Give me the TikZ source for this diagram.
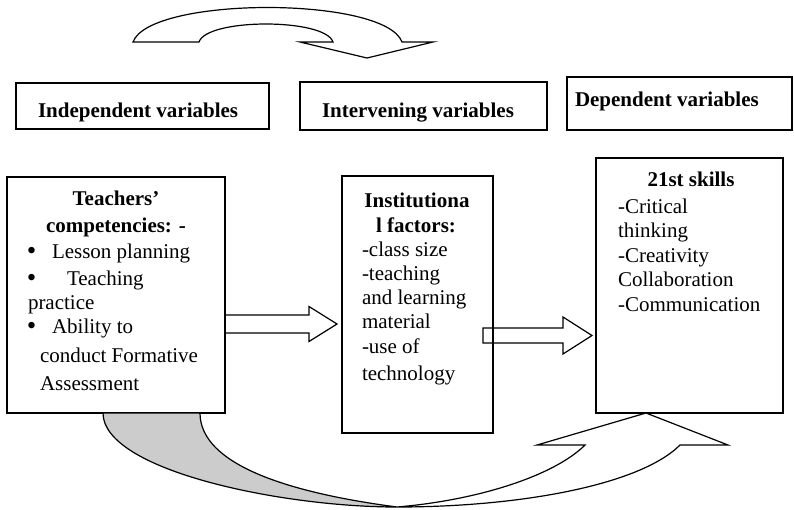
\documentclass[tikz,border=0pt]{standalone}
\usepackage{fontspec}
\setmainfont{Liberation Serif}
\begin{document}
\begin{tikzpicture}[x=1pt,y=-1pt,
  box/.style={draw,line width=1.2pt,anchor=north west,inner sep=0pt,outer sep=0pt},
  txt/.style={inner sep=0pt,outer sep=0pt,font=\fontsize{21}{25}\selectfont,anchor=base west},
  bul/.style={inner sep=0pt,outer sep=0pt,font=\fontsize{27}{30}\selectfont,anchor=base west},
  ctxt/.style={inner sep=0pt,outer sep=0pt,font=\fontsize{21}{25}\selectfont\bfseries,anchor=base},
  btxt/.style={txt,font=\fontsize{21}{25}\selectfont\bfseries},
  shp/.style={draw,line width=1.2pt,line join=miter}]
\useasboundingbox (0,0) rectangle (794,509);

% header boxes
\node[box,minimum width=253pt,minimum height=46pt] (indep) at (16,83) {};
\node[box,minimum width=247pt,minimum height=48pt] (interv) at (300,82) {};
\node[box,minimum width=225pt,minimum height=53pt] (dep) at (567,77) {};
\node[btxt] (indept) at (38,117) {Independent variables};
\node[btxt] (intervt) at (322,117) {Intervening variables};
\node[btxt] (dept) at (575,106) {Dependent variables};

% top curved arrow
\filldraw[shp,fill=white] (133,42) .. controls (150,-4) and (385,-4) .. (402,42)
  -- (433,42) -- (367,58) -- (300,42) -- (333,42)
  .. controls (325,18) and (207,18) .. (199,42) -- cycle;

% main boxes
\node[box,minimum width=218pt,minimum height=236pt] (teach) at (7,177) {};
\node[box,minimum width=151pt,minimum height=257pt] (inst) at (342,176) {};
\node[box,minimum width=187pt,minimum height=255pt] (skills) at (596,158) {};

% teachers' box text
\node[ctxt] (t1) at (116,205) {Teachers’};
\node[ctxt] (t2) at (116,232) {competencies: -};
\node[bul] (b1) at (27,259) {\textbullet};
\node[txt] (t3) at (52,258) {Lesson planning};
\node[bul] (b2) at (27,286) {\textbullet};
\node[txt] (t4) at (67,285) {Teaching};
\node[txt] (t5) at (28,309) {practice};
\node[bul] (b3) at (27,334) {\textbullet};
\node[txt] (t6) at (52,333) {Ability to};
\node[txt] (t7) at (40,362) {conduct Formative};
\node[txt] (t8) at (40,390) {Assessment};

% institutional box text
\node[ctxt] (i1) at (417,207) {Institutiona};
\node[ctxt] (i2) at (416,232) {l factors:};
\node[txt] (i3) at (362,256) {-class size};
\node[txt] (i4) at (362,280) {-teaching};
\node[txt] (i5) at (362,304) {and learning};
\node[txt] (i6) at (362,328) {material};
\node[txt] (i7) at (362,353) {-use of};
\node[txt] (i8) at (362,380) {technology};

% skills box text
\node[ctxt] (s1) at (691,186) {21st skills};
\node[txt] (s2) at (618,213) {-Critical};
\node[txt] (s3) at (618,237) {thinking};
\node[txt] (s4) at (618,262) {-Creativity};
\node[txt] (s5) at (618,286) {Collaboration};
\node[txt] (s6) at (618,311) {-Communication};

% block arrows
\draw[shp] (teach.east |- 0,315) -- (309,315) -- (309,306.5) -- (337,324)
  -- (309,341.5) -- (309,333) -- (teach.east |- 0,333);
\draw[shp] (483,328) -- (563,328) -- (563,317) -- (592,335.5)
  -- (563,354) -- (563,343) -- (483,343) -- cycle;

% bottom curved arrow
\filldraw[shp,fill=black!20] (103,413) .. controls (103,470) and (280,507) .. (397,507)
  .. controls (290,493) and (200,465) .. (200,413) -- cycle;
\filldraw[shp,fill=white] (397,507) .. controls (520,507) and (640,485) .. (680,445)
  -- (728,445) -- (skills.south -| 646,0) -- (537,445) -- (585,445)
  .. controls (555,475) and (480,500) .. (397,507) -- cycle;
\end{tikzpicture}
\end{document}
